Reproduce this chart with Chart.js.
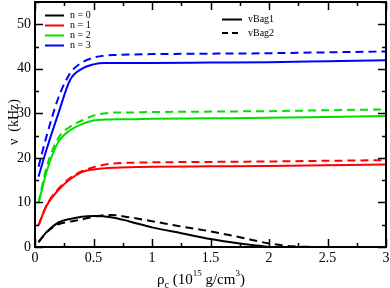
<!DOCTYPE html>
<html>
<head>
<meta charset="utf-8">
<script src="https://cdn.jsdelivr.net/npm/chart.js@4.4.0/dist/chart.umd.min.js"></script>
<style>
  html, body { margin: 0; padding: 0; background: #fff; }
  #wrap { width: 390px; height: 288px; }
</style>
</head>
<body>
<div id="wrap"><canvas id="myChart" width="390" height="288"></canvas></div>
<script>
// x values (10^15 g/cm^3)
const rho = [0.03, 0.1, 0.2, 0.3, 0.4, 0.5, 0.6, 0.7, 0.8, 1, 1.5, 2, 2.5, 3];
const rhoN0a = [0.03, 0.1, 0.2, 0.3, 0.4, 0.5, 0.65, 0.8, 1, 1.25, 1.5, 1.75, 2];
const rhoN0b = [0.03, 0.1, 0.2, 0.3, 0.4, 0.5, 0.65, 0.8, 1, 1.25, 1.5, 1.75, 2, 2.2, 2.4];

// frequencies (kHz)
const n0Bag1 = [1.1, 3.4, 5.5, 6.3, 6.8, 6.95, 6.7, 5.8, 4.4, 3.1, 1.8, 0.8, 0];
const n0Bag2 = [1.1, 3.3, 5.1, 5.7, 6.2, 6.8, 7.2, 6.7, 5.8, 4.6, 3.5, 2.2, 0.8, 0.15, 0];
const n1Bag1 = [4.9, 9.3, 12.8, 15.2, 16.8, 17.4, 17.7, 17.8, 17.9, 18.0, 18.1, 18.2, 18.35, 18.5];
const n1Bag2 = [4.9, 9.4, 13.1, 15.5, 17.0, 17.9, 18.5, 18.8, 18.9, 19.0, 19.1, 19.2, 19.35, 19.5];
const n2Bag1 = [9.8, 17, 23.6, 26.2, 27.6, 28.4, 28.6, 28.7, 28.7, 28.8, 28.9, 29.0, 29.2, 29.4];
const n2Bag2 = [10, 18, 24.5, 27.0, 28.4, 29.5, 30.0, 30.2, 30.2, 30.3, 30.4, 30.5, 30.7, 30.9];
const n3Bag1 = [15.8, 22, 30, 37.5, 40, 41, 41.3, 41.3, 41.3, 41.3, 41.4, 41.5, 41.7, 41.9];
const n3Bag2 = [18, 25, 33.5, 39, 41.4, 42.5, 43.0, 43.1, 43.2, 43.3, 43.4, 43.5, 43.7, 43.9];

const xTicks = [0, 0.5, 1, 1.5, 2, 2.5, 3];
const yTicks = [0, 10, 20, 30, 40, 50];
const modeLabels = ["n = 0", "n = 1", "n = 2", "n = 3"];
const bagLabels = ["vBag1", "vBag2"];
const colors = ["#000000", "#ff0000", "#00e000", "#0000ff"];

const serif = "'Liberation Serif', 'DejaVu Serif', serif";

function pts(xs, ys) {
  return xs.map((x, i) => ({ x: x, y: ys[i] }));
}

function ds(xs, ys, color, dashed) {
  return {
    data: pts(xs, ys),
    borderColor: color,
    borderWidth: 2,
    borderDash: dashed ? [8, 5] : [],
    pointRadius: 0,
    fill: false,
    cubicInterpolationMode: "monotone",
  };
}

const datasets = [
  ds(rhoN0a, n0Bag1, colors[0], false),
  ds(rhoN0b, n0Bag2, colors[0], true),
  ds(rho, n1Bag1, colors[1], false),
  ds(rho, n1Bag2, colors[1], true),
  ds(rho, n2Bag1, colors[2], false),
  ds(rho, n2Bag2, colors[2], true),
  ds(rho, n3Bag1, colors[3], false),
  ds(rho, n3Bag2, colors[3], true),
];

// frame, inward ticks, legends and axis titles
const decor = {
  id: "decor",
  afterDraw(chart) {
    const ctx = chart.ctx;
    const a = chart.chartArea;
    const xs = chart.scales.x, ys = chart.scales.y;
    ctx.save();
    ctx.strokeStyle = "#000";
    ctx.lineWidth = 2;
    ctx.strokeRect(a.left, a.top, a.right - a.left, a.bottom - a.top);

    ctx.lineWidth = 1.5;
    for (let v = 0; v <= 3.0001; v += 0.25) {
      const px = Math.round(xs.getPixelForValue(v)) + 0.5;
      const len = Math.abs(v * 2 - Math.round(v * 2)) < 1e-6 ? 8 : 4;
      ctx.beginPath();
      ctx.moveTo(px, a.bottom); ctx.lineTo(px, a.bottom - len);
      ctx.moveTo(px, a.top); ctx.lineTo(px, a.top + len);
      ctx.stroke();
    }
    for (let v = 0; v <= 55; v += 5) {
      const py = Math.round(ys.getPixelForValue(v)) + 0.5;
      const len = v % 10 === 0 ? 8 : 4;
      ctx.beginPath();
      ctx.moveTo(a.left, py); ctx.lineTo(a.left + len, py);
      ctx.moveTo(a.right, py); ctx.lineTo(a.right - len, py);
      ctx.stroke();
    }

    // mode legend
    ctx.font = "10px " + serif;
    ctx.textBaseline = "middle";
    ctx.textAlign = "left";
    modeLabels.forEach((lab, i) => {
      const y = 15.5 + i * 10;
      ctx.strokeStyle = colors[i];
      ctx.lineWidth = 2;
      ctx.setLineDash([]);
      ctx.beginPath(); ctx.moveTo(45, y); ctx.lineTo(64, y); ctx.stroke();
      ctx.fillStyle = "#000";
      ctx.fillText(lab, 70, y);
    });
    // bag legend
    bagLabels.forEach((lab, i) => {
      const y = 19.5 + i * 13.5;
      ctx.strokeStyle = "#000";
      ctx.lineWidth = 2;
      ctx.setLineDash(i ? [6, 4] : []);
      ctx.beginPath(); ctx.moveTo(222, y); ctx.lineTo(242, y); ctx.stroke();
      ctx.setLineDash([]);
      ctx.fillStyle = "#000";
      ctx.fillText(lab, 248, y);
    });

    // y title
    ctx.save();
    ctx.translate(14, 122);
    ctx.rotate(-Math.PI / 2);
    ctx.textAlign = "center";
    ctx.font = "14px " + serif;
    ctx.fillText("\u03bd  (kHz)", 0, 0);
    ctx.restore();

    // x title with sub/superscripts
    let x = 157, y = 284;
    ctx.textAlign = "left";
    ctx.textBaseline = "alphabetic";
    const parts = [
      ["\u03c1", 15, 0], ["c", 10, 4], [" (10", 15, 0], ["15", 9, -8],
      [" g/cm", 15, 0], ["3", 9, -8], [")", 15, 0],
    ];
    parts.forEach(p => {
      ctx.font = p[1] + "px " + serif;
      ctx.fillText(p[0], x, y + p[2]);
      x += ctx.measureText(p[0]).width;
    });
    ctx.restore();
  },
};

const config = {
  type: "line",
  data: { datasets: datasets },
  options: {
    responsive: false,
    animation: false,
    layout: { padding: { top: 2, right: 4, left: 0, bottom: 0 } },
    plugins: { legend: { display: false }, tooltip: { enabled: false } },
    scales: {
      x: {
        type: "linear",
        min: 0, max: 3,
        afterFit: s => { s.height = 41; s.paddingLeft = 0; s.paddingRight = 0; },
        afterBuildTicks: s => { s.ticks = xTicks.map(v => ({ value: v })); },
        grid: { display: false, drawTicks: false },
        border: { display: false },
        ticks: {
          font: { family: serif, size: 14 }, color: "#000", padding: 3,
          maxRotation: 0, callback: v => String(v),
        },
      },
      y: {
        type: "linear",
        min: 0, max: 55,
        afterFit: s => { s.width = 35; s.paddingTop = 0; s.paddingBottom = 0; },
        afterBuildTicks: s => { s.ticks = yTicks.map(v => ({ value: v })); },
        grid: { display: false, drawTicks: false },
        border: { display: false },
        ticks: {
          font: { family: serif, size: 14 }, color: "#000", padding: 4,
          callback: v => String(v),
        },
      },
    },
  },
  plugins: [decor],
};

const myChart = new Chart(document.getElementById("myChart"), config);
</script>
</body>
</html>
